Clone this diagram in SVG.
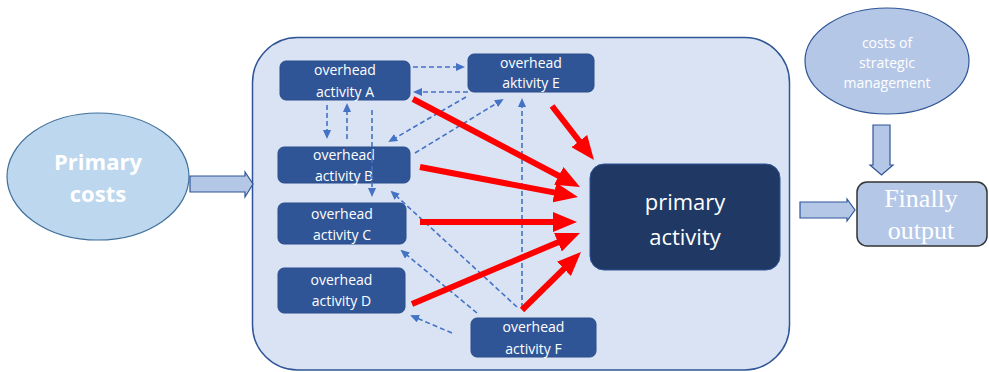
<svg xmlns="http://www.w3.org/2000/svg" width="989" height="372" viewBox="0 0 989 372">
<style>
.node rect{fill:#2f5597;stroke:#2a4d8a;stroke-width:1}
.t{font-family:"Open Sans","Liberation Sans",sans-serif;fill:#fff;text-anchor:middle}
.nt{font-size:14px}
.dash{stroke:#4472c4;stroke-width:1.6;stroke-dasharray:5 3;fill:none}
.red{stroke:#ff0000;stroke-width:6;fill:none}
.block{fill:#b4c7e7;stroke:#2f5597;stroke-width:1.2}
</style>
<defs>
<marker id="rh" markerUnits="userSpaceOnUse" markerWidth="24" markerHeight="20" viewBox="0 0 24 20" refX="10" refY="10" orient="auto">
<path d="M0,0 L24,10 L0,20 z" fill="#ff0000"/>
</marker>
<marker id="bh" markerUnits="userSpaceOnUse" markerWidth="9" markerHeight="8" viewBox="0 0 9 8" refX="7" refY="4" orient="auto">
<path d="M0,0 L9,4 L0,8 z" fill="#4472c4"/>
</marker>
</defs>
<rect width="989" height="372" fill="#ffffff"/>
<g id="container">
<rect x="252.5" y="37.5" width="537" height="332.5" rx="45" fill="#dae3f3" stroke="#2f5597" stroke-width="1.5"/>
</g>
<g id="primary-costs">
<ellipse cx="98" cy="176.5" rx="91" ry="63.5" fill="#bdd7ee" stroke="#41719c" stroke-width="1.2"/>
<text class="t" x="98" y="170" font-size="22" font-weight="bold">Primary</text>
<text class="t" x="98" y="202" font-size="22" font-weight="bold">costs</text>
</g>
<g id="strategic-costs">
<ellipse cx="887" cy="61" rx="82" ry="53" fill="#b4c7e7" stroke="#2f5597" stroke-width="1.2"/>
<text class="t" x="887" y="48" font-size="14">costs of</text>
<text class="t" x="887" y="68" font-size="14">strategic</text>
<text class="t" x="887" y="88" font-size="14">management</text>
</g>
<g id="final-output">
<rect x="857" y="182" width="130" height="64" rx="10" fill="#b4c7e7" stroke="#333333" stroke-width="1.5"/>
<text x="921" y="207" font-family="'Liberation Serif','Times New Roman',serif" font-size="26" fill="#ffffff" text-anchor="middle">Finally</text>
<text x="921" y="239" font-family="'Liberation Serif','Times New Roman',serif" font-size="26" fill="#ffffff" text-anchor="middle">output</text>
</g>
<g id="primary-activity">
<rect x="590" y="164" width="190" height="106" rx="14" fill="#203864" stroke="#2f5597" stroke-width="1"/>
<text class="t" x="685" y="210" font-size="22">primary</text>
<text class="t" x="685" y="245" font-size="22">activity</text>
</g>
<g id="activity-a" class="node">
<rect x="280" y="61" width="130" height="39" rx="6"/>
<text class="t nt" x="345" y="75">overhead</text>
<text class="t nt" x="345" y="97">activity A</text>
</g>
<g id="activity-e" class="node">
<rect x="468" y="54" width="126" height="38" rx="6"/>
<text class="t nt" x="531" y="68">overhead</text>
<text class="t nt" x="531" y="88">aktivity E</text>
</g>
<g id="activity-b" class="node">
<rect x="278" y="147" width="132" height="36" rx="6"/>
<text class="t nt" x="344" y="160">overhead</text>
<text class="t nt" x="344" y="181">activity B</text>
</g>
<g id="activity-c" class="node">
<rect x="278" y="203" width="128" height="41" rx="6"/>
<text class="t nt" x="342" y="219">overhead</text>
<text class="t nt" x="342" y="240">activity C</text>
</g>
<g id="activity-d" class="node">
<rect x="278" y="268" width="127" height="45" rx="6"/>
<text class="t nt" x="341.5" y="285">overhead</text>
<text class="t nt" x="341.5" y="306">activity D</text>
</g>
<g id="activity-f" class="node">
<rect x="471" y="318" width="125" height="39" rx="6"/>
<text class="t nt" x="533.5" y="332">overhead</text>
<text class="t nt" x="533.5" y="354">activity F</text>
</g>
<g id="connectors">
<polygon class="block" points="190,176 245,176 245,172 253,184 245,197 245,192 190,192"/>
<polygon class="block" points="873,125 890,125 890,165 893,165 881.5,175 870,165 873,165"/>
<polygon class="block" points="800,202 847,202 847,199 855,210 847,221 847,218 800,218"/>
<line class="dash" x1="413" y1="67" x2="463" y2="67" marker-end="url(#bh)"/>
<line class="dash" x1="468" y1="92" x2="415" y2="92" marker-end="url(#bh)"/>
<line class="dash" x1="327" y1="105" x2="327" y2="137" marker-end="url(#bh)"/>
<line class="dash" x1="347" y1="139" x2="347" y2="105" marker-end="url(#bh)"/>
<line class="dash" x1="372" y1="110" x2="372" y2="195" marker-end="url(#bh)"/>
<line class="dash" x1="466" y1="97" x2="390" y2="141" marker-end="url(#bh)"/>
<line class="dash" x1="415" y1="153" x2="502" y2="100" marker-end="url(#bh)"/>
<line class="dash" x1="522" y1="308" x2="522" y2="100" marker-end="url(#bh)"/>
<line class="dash" x1="517" y1="307" x2="392" y2="192" marker-end="url(#bh)"/>
<line class="dash" x1="477" y1="313" x2="402" y2="251" marker-end="url(#bh)"/>
<line class="dash" x1="452" y1="333" x2="412" y2="316" marker-end="url(#bh)"/>
<line class="red" x1="413" y1="99" x2="567.6" y2="180.5" marker-end="url(#rh)"/>
<line class="red" x1="552" y1="106" x2="585.4" y2="149" marker-end="url(#rh)"/>
<line class="red" x1="420" y1="167" x2="564.2" y2="194.4" marker-end="url(#rh)"/>
<line class="red" x1="420" y1="222" x2="563" y2="222" marker-end="url(#rh)"/>
<line class="red" x1="412" y1="304" x2="567.1" y2="238.4" marker-end="url(#rh)"/>
<line class="red" x1="522" y1="310" x2="571" y2="261.8" marker-end="url(#rh)"/>
</g>
</svg>
